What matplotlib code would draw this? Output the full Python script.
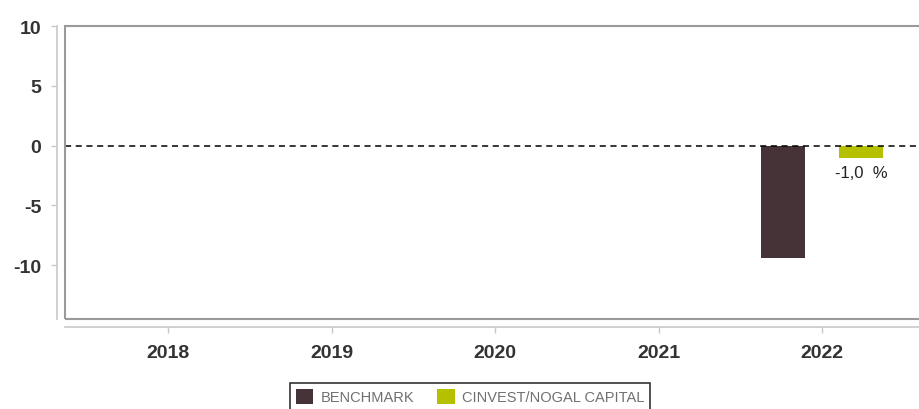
import matplotlib.pyplot as plt
from matplotlib.patches import Rectangle
import numpy as np

plt.rcParams['font.family'] = ['Liberation Sans', 'DejaVu Sans']
plt.rcParams['axes.unicode_minus'] = False

# data
years = ['2018', '2019', '2020', '2021', '2022']
benchmark = [np.nan, np.nan, np.nan, np.nan, -9.4]
cinvest = [np.nan, np.nan, np.nan, np.nan, -1.0]
series_names = ['BENCHMARK', 'CINVEST/NOGAL CAPITAL']
colors = ['#463337', '#b5c000']

fig = plt.figure(figsize=(9.2, 4.1), dpi=100)
ax = fig.add_axes([65 / 920, 1 - 320 / 410, 870 / 920, 293 / 410])

x = np.arange(len(years))
w = 0.27
ax.bar(x - 0.237, benchmark, w, color=colors[0], label=series_names[0], zorder=3)
ax.bar(x + 0.237, cinvest, w, color=colors[1], label=series_names[1], zorder=3)

# value label for the fund
for i, v in enumerate(cinvest):
    if not np.isnan(v):
        ax.text(x[i] + 0.237, v - 0.6, f'{v:.1f}  %'.replace('.', ','),
                ha='center', va='top', fontsize=12, color='#222222')

ax.axhline(0, color='black', lw=1.1, ls=(0, (4, 3)), zorder=4)

ax.set_ylim(-14.5, 10)
ax.set_xlim(-0.63, 4.69)
ax.set_yticks([10, 5, 0, -5, -10])
ax.set_xticks(x)
ax.set_xticklabels(years)

# frame around plot area
ax.add_patch(Rectangle((0, 0), 1, 1, transform=ax.transAxes, fill=False,
                       ec='#9a9a9a', lw=1.5, clip_on=False, zorder=5))

for s in ['top', 'right']:
    ax.spines[s].set_visible(False)
for s in ['left', 'bottom']:
    ax.spines[s].set_position(('outward', 6))
    ax.spines[s].set_color('#c8c8c8')
    ax.spines[s].set_linewidth(1.2)

ax.tick_params(axis='both', colors='#c8c8c8', length=4, width=1,
               labelcolor='#333333', labelsize=14)
ax.tick_params(axis='y', pad=7)
ax.tick_params(axis='x', pad=8)
for lbl in ax.get_xticklabels() + ax.get_yticklabels():
    lbl.set_fontweight('bold')

leg = fig.legend(loc='upper center', bbox_to_anchor=(470 / 920, 1 - 384 / 410),
                 ncol=2, fontsize=10.5, frameon=True, fancybox=False,
                 handlelength=1.2, handleheight=1.2, handletextpad=0.5,
                 columnspacing=1.6, borderpad=0.4, borderaxespad=0)
leg.get_frame().set_edgecolor('black')
leg.get_frame().set_linewidth(1.2)
for t in leg.get_texts():
    t.set_color('#707070')

fig.savefig('out.png', dpi=100)
